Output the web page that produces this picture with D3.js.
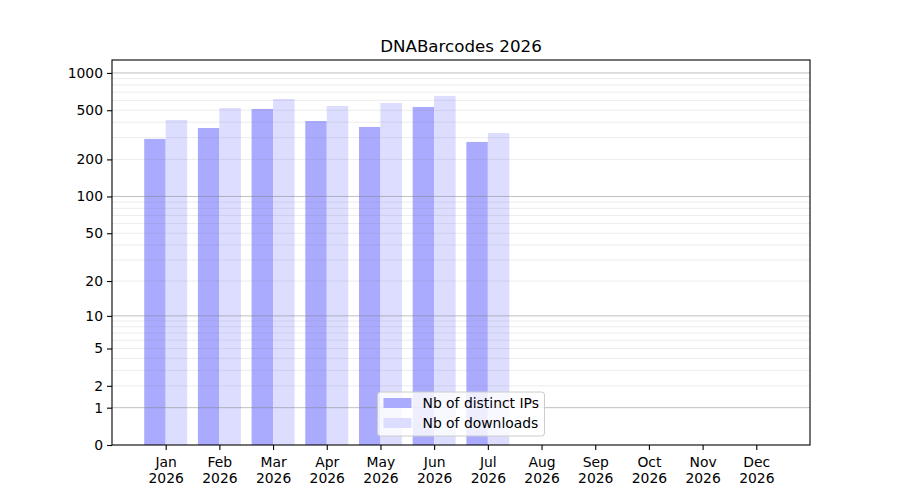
<!DOCTYPE html>
<html>
<head>
<meta charset="utf-8">
<script src="https://cdn.jsdelivr.net/npm/d3@7"></script>
<style>
  body { margin: 0; background: #fff; }
  svg { font-family: "DejaVu Sans", sans-serif; }
</style>
</head>
<body>
<div id="chart"></div>
<script>
// Chart data
//=====================================================================
var months = ["Jan", "Feb", "Mar", "Apr", "May", "Jun", "Jul", "Aug", "Sep", "Oct", "Nov", "Dec"];
var year = "2026";
var distinctIPs = [293, 359, 512, 409, 366, 531, 277];
var downloads = [417, 521, 616, 541, 572, 652, 327];
var yTicks = [0, 1, 2, 5, 10, 20, 50, 100, 200, 500, 1000];
var majorGrid = [1, 10, 100, 1000];

// Set up the chart area
//=====================================================================
var svgWidth = 900;
var svgHeight = 500;

var margin = { top: 60, right: 90, bottom: 55, left: 112 };
var width = svgWidth - margin.left - margin.right;
var height = svgHeight - margin.top - margin.bottom;

var svg = d3.select("#chart")
    .append("svg")
    .attr("width", svgWidth)
    .attr("height", svgHeight);

var chartGroup = svg.append("g")
    .attr("transform", `translate(${margin.left}, ${margin.top})`);

// Scales (y is log(1 + x), like a symlog with constant 1)
//=====================================================================
var xScale = d3.scaleLinear()
    .domain([-1, 12])
    .range([0, width]);

var yScale = d3.scaleSymlog()
    .constant(1)
    .domain([0, 1272])
    .range([height, 0]);

var barW = 0.4;

// Bars
//=====================================================================
chartGroup.selectAll(".ips")
    .data(distinctIPs)
    .enter()
    .append("rect")
    .attr("x", (d, i) => xScale(i - barW))
    .attr("width", xScale(barW) - xScale(0))
    .attr("y", d => yScale(d))
    .attr("height", d => height - yScale(d))
    .attr("fill", "#aaaaff");

chartGroup.selectAll(".dl")
    .data(downloads)
    .enter()
    .append("rect")
    .attr("x", (d, i) => xScale(i))
    .attr("width", xScale(barW) - xScale(0))
    .attr("y", d => yScale(d))
    .attr("height", d => height - yScale(d))
    .attr("fill", "#ddddff");

// Grid lines (drawn over the bars)
//=====================================================================
var minorGrid = [];
[1, 10, 100, 1000].forEach(function (dec) {
    for (var k = 2; k <= 9; k++) {
        if (dec * k < 1272) minorGrid.push(dec * k);
    }
});

chartGroup.append("g")
    .selectAll("line")
    .data(minorGrid)
    .enter()
    .append("line")
    .attr("x1", 0)
    .attr("x2", width)
    .attr("y1", d => yScale(d))
    .attr("y2", d => yScale(d))
    .attr("stroke", "#808080")
    .attr("stroke-opacity", 0.15)
    .attr("stroke-width", 1);

chartGroup.append("g")
    .selectAll("line")
    .data(majorGrid)
    .enter()
    .append("line")
    .attr("x1", 0)
    .attr("x2", width)
    .attr("y1", d => yScale(d))
    .attr("y2", d => yScale(d))
    .attr("stroke", "#808080")
    .attr("stroke-opacity", 0.5)
    .attr("stroke-width", 1);

// Axes
//=====================================================================
var leftAxis = d3.axisLeft(yScale)
    .tickValues(yTicks)
    .tickFormat(d3.format("d"))
    .tickSizeOuter(0)
    .tickSize(5)
    .tickPadding(4);

var bottomAxis = d3.axisBottom(xScale)
    .tickValues(d3.range(months.length))
    .tickFormat("")
    .tickSizeOuter(0)
    .tickSize(5);

var yAxisG = chartGroup.append("g").call(leftAxis);
yAxisG.selectAll("text")
    .attr("font-size", "13.9px")
    .attr("font-family", "DejaVu Sans")
    .attr("fill", "#000");
yAxisG.select(".domain").remove();

var xAxisG = chartGroup.append("g")
    .attr("transform", `translate(0, ${height})`)
    .call(bottomAxis);
xAxisG.select(".domain").remove();

xAxisG.selectAll(".tick")
    .append("text")
    .attr("fill", "#000")
    .attr("font-size", "13.9px")
    .attr("font-family", "DejaVu Sans")
    .attr("text-anchor", "middle")
    .selectAll("tspan")
    .data((d) => [months[d], year])
    .enter()
    .append("tspan")
    .attr("x", 0)
    .attr("y", (d, i) => 22 + i * 16)
    .text(d => d);

chartGroup.selectAll(".tick line").attr("stroke", "#000").attr("stroke-width", 1.1);

// Frame
chartGroup.append("rect")
    .attr("x", 0)
    .attr("y", 0)
    .attr("width", width)
    .attr("height", height)
    .attr("fill", "none")
    .attr("stroke", "#000")
    .attr("stroke-width", 1.1);

// Title
//=====================================================================
svg.append("text")
    .attr("x", margin.left + width / 2)
    .attr("y", margin.top - 8)
    .attr("text-anchor", "middle")
    .attr("font-size", "16.7px")
    .attr("fill", "#000")
    .text("DNABarcodes 2026");

// Legend (lower center)
//=====================================================================
var legendItems = [
    { label: "Nb of distinct IPs", color: "#aaaaff" },
    { label: "Nb of downloads", color: "#ddddff" }
];

var legendW = 167;
var legendH = 44;
var legend = chartGroup.append("g")
    .attr("transform", `translate(${width / 2 - legendW / 2}, ${height - 9 - legendH})`);

legend.append("rect")
    .attr("width", legendW)
    .attr("height", legendH)
    .attr("rx", 3)
    .attr("fill", "#fff")
    .attr("fill-opacity", 0.8)
    .attr("stroke", "#cccccc")
    .attr("stroke-width", 1);

var rows = legend.selectAll(".row")
    .data(legendItems)
    .enter()
    .append("g")
    .attr("transform", (d, i) => `translate(6, ${6 + i * 20})`);

rows.append("rect")
    .attr("width", 28)
    .attr("height", 10)
    .attr("fill", d => d.color);

rows.append("text")
    .attr("x", 39)
    .attr("y", 5)
    .attr("dy", "0.35em")
    .attr("font-size", "13.9px")
    .attr("fill", "#000")
    .text(d => d.label);
</script>
</body>
</html>
